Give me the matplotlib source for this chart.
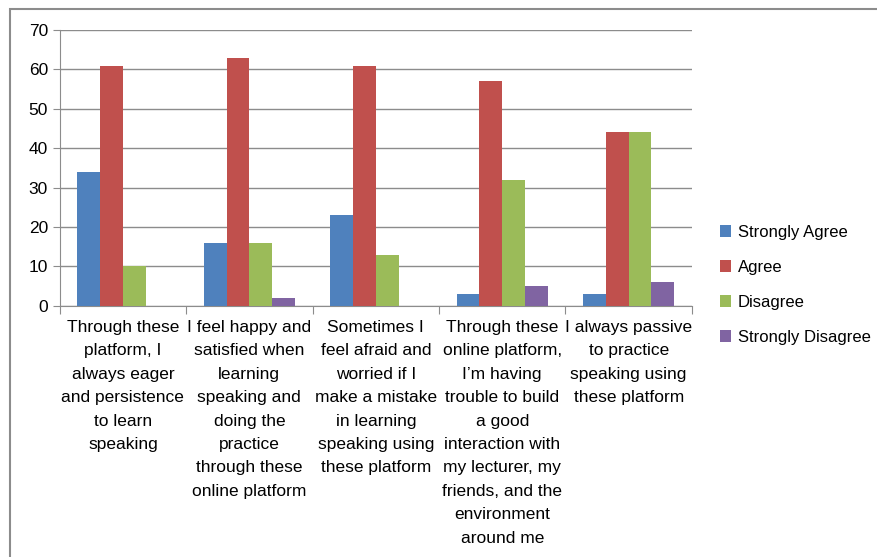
import matplotlib.pyplot as plt
import matplotlib.patches as patches
import numpy as np

categories = [
    "Through these\nplatform, I\nalways eager\nand persistence\nto learn\nspeaking",
    "I feel happy and\nsatisfied when\nlearning\nspeaking and\ndoing the\npractice\nthrough these\nonline platform",
    "Sometimes I\nfeel afraid and\nworried if I\nmake a mistake\nin learning\nspeaking using\nthese platform",
    "Through these\nonline platform,\nI\u2019m having\ntrouble to build\na good\ninteraction with\nmy lecturer, my\nfriends, and the\nenvironment\naround me",
    "I always passive\nto practice\nspeaking using\nthese platform",
]
series_names = ["Strongly Agree", "Agree", "Disagree", "Strongly Disagree"]
strongly_agree = [34, 16, 23, 3, 3]
agree = [61, 63, 61, 57, 44]
disagree = [10, 16, 13, 32, 44]
strongly_disagree = [0, 2, 0, 5, 6]
colors = ["#4F81BD", "#C0504D", "#9BBB59", "#8064A2"]

plt.rcParams['font.family'] = ['Liberation Sans', 'DejaVu Sans']

fig = plt.figure(figsize=(8.78, 5.57), dpi=100)
ax = fig.add_axes([0.068, 0.451, 0.72, 0.495])

# outer chart border (cut off at right/bottom like the screenshot)
fig.patches.append(patches.Rectangle((10 / 878, -0.1), 2, 1.1 - 9 / 557,
                                     transform=fig.transFigure, fill=False,
                                     edgecolor="#8c8c8c", linewidth=1.5))

x = np.arange(len(categories))
w = 0.18
all_series = [strongly_agree, agree, disagree, strongly_disagree]
for i, (vals, name) in enumerate(zip(all_series, series_names)):
    ax.bar(x + (i - 1.5) * w, vals, w, color=colors[i], label=name, zorder=3)

ax.set_xlim(-0.5, len(categories) - 0.5)
ax.set_ylim(0, 70)
ax.set_yticks(range(0, 71, 10))
ax.grid(axis='y', color="#8c8c8c", linewidth=1, zorder=0)
for s in ['top', 'right']:
    ax.spines[s].set_visible(False)
ax.spines['left'].set_color("#8c8c8c")
ax.spines['bottom'].set_color("#8c8c8c")

ax.set_xticks(np.arange(-0.5, len(categories)))
ax.set_xticklabels([])
ax.tick_params(axis='x', length=6, color="#8c8c8c")
ax.tick_params(axis='y', length=5, color="#8c8c8c", labelsize=12.5)

for xi, lab in zip(x, categories):
    ax.text(xi, -3.6, lab, ha='center', va='top', fontsize=12.5,
            linespacing=1.7)

ax.legend(loc='center left', bbox_to_anchor=(1.02, 0.076), frameon=False,
          fontsize=12, handlelength=0.7, handleheight=0.7,
          handletextpad=0.4, labelspacing=1.2)

fig.savefig("out.png", dpi=100)
